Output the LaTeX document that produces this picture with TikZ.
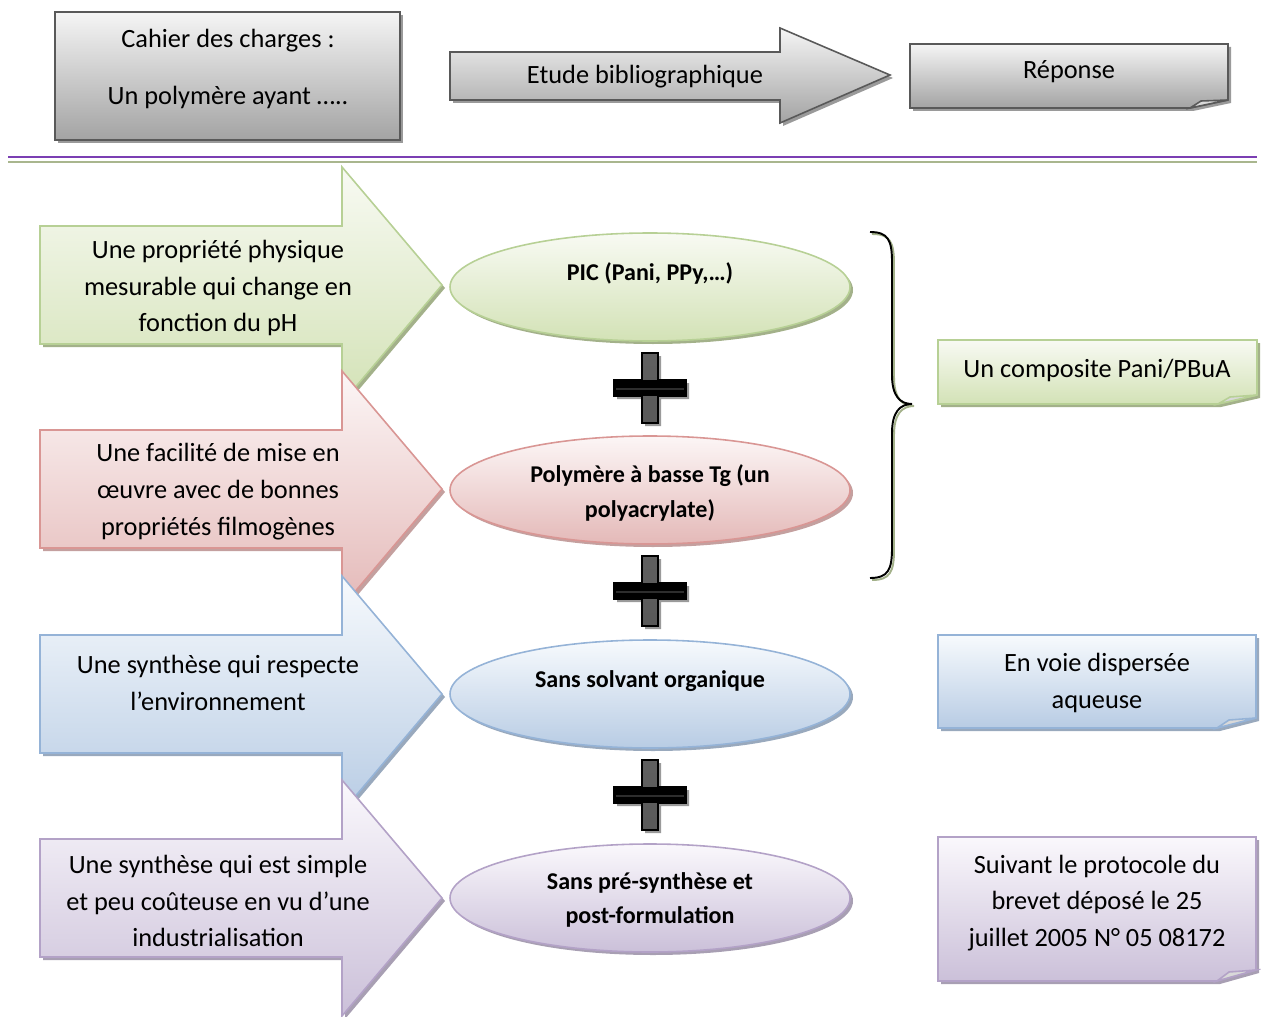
\documentclass[tikz,border=0pt]{standalone}
\usepackage{fontspec}
\setmainfont{Carlito}
\usepackage{xcolor}
\usepackage{tikz}
\definecolor{ink}{HTML}{000000}
\definecolor{greyhi}{HTML}{F5F5F5}
\definecolor{greylo}{HTML}{A3A3A3}
\definecolor{greyln}{HTML}{595959}
\definecolor{greysh}{HTML}{9A9A9A}
\definecolor{greenhi}{HTML}{F8FAF3}
\definecolor{greenlo}{HTML}{D3E2B6}
\definecolor{greenln}{HTML}{B7D095}
\definecolor{greensh}{HTML}{A3B18A}
\definecolor{redhi}{HTML}{FCF6F6}
\definecolor{redlo}{HTML}{E4B9B8}
\definecolor{redln}{HTML}{D99694}
\definecolor{redsh}{HTML}{C4A09F}
\definecolor{bluehi}{HTML}{F7FAFD}
\definecolor{bluelo}{HTML}{B8CCE4}
\definecolor{blueln}{HTML}{95B3D7}
\definecolor{bluesh}{HTML}{99A9BD}
\definecolor{purphi}{HTML}{FAF8FC}
\definecolor{purplo}{HTML}{CBC0D9}
\definecolor{purpln}{HTML}{B3A2C7}
\definecolor{purpsh}{HTML}{A89FB3}
\definecolor{rulepurp}{HTML}{7B3FB3}
\definecolor{ruleolive}{HTML}{A9B68E}
\tikzset{
  greybox/.style={top color=greyhi, bottom color=greylo, draw=greyln, line width=0.9pt},
  greenbox/.style={top color=greenhi, bottom color=greenlo, draw=greenln, line width=0.9pt},
  redbox/.style={top color=redhi, bottom color=redlo, draw=redln, line width=0.9pt},
  bluebox/.style={top color=bluehi, bottom color=bluelo, draw=blueln, line width=0.9pt},
  purpbox/.style={top color=purphi, bottom color=purplo, draw=purpln, line width=0.9pt},
  shadowbox/.style={fill=#1, draw=none},
  foldbox/.style={fill=gray!30, draw=#1, line width=0.9pt},
  plusbox/.style={top color=gray!75!black, middle color=black, bottom color=gray!70!black, draw=black, line width=0.9pt},
  plusbar/.style={fill=black, draw=none},
  bracket/.style={draw=ink, line width=1.1pt},
  lab/.style={text=ink, font=\fontsize{15}{21}\selectfont, align=center, inner sep=0pt},
  blab/.style={text=ink, font=\bfseries\fontsize{13.7}{19.5}\selectfont, align=center, inner sep=0pt}
}
\begin{document}
\begin{tikzpicture}[x=0.02cm, y=-0.02cm]
  \useasboundingbox (0,0) rectangle (1261,1017);

  % Top row: cahier des charges -> etude -> reponse
  \fill[shadowbox=greysh] (58,15) rectangle (403,143);
  \path[greybox] (55,12) rectangle (400,140);
  \node[lab] (cahier) at (228,69) {Cahier des charges :\\[11pt]Un polymère ayant …..};

  \fill[shadowbox=greysh] (453,55) -- (783,55) -- (783,31) -- (893,78) -- (783,126) -- (783,103) -- (453,103) -- cycle;
  \path[greybox] (450,52) -- (780,52) -- (780,28) -- (890,75) -- (780,123) -- (780,100) -- (450,100) -- cycle;
  \node[lab] (etude) at (645,77) {Etude bibliographique};

  \fill[shadowbox=greysh] (913,47) -- (1231,47) -- (1231,103) -- (1193,111) -- (913,111) -- cycle;
  \path[greybox] (910,44) -- (1228,44) -- (1228,100) -- (1190,108) -- (910,108) -- cycle;
  \filldraw[foldbox=greyln] (1190,108) -- (1201,101) -- (1228,100) -- cycle;
  \node[lab] (reponse) at (1069,72) {Réponse};

  % Separator
  \draw[rulepurp, line width=1.7pt] (8,157) -- (1257,157);
  \draw[ruleolive, line width=1.1pt] (8,162) -- (1257,162);

  % Left arrows (tip height given by the shift)
  \begin{scope}[shift={(0,285)}]
    \fill[shadowbox=greensh] (43,-56) -- (345,-56) -- (345,-115) -- (445,3) -- (345,121) -- (345,62) -- (43,62) -- cycle;
    \path[greenbox] (40,-59) -- (342,-59) -- (342,-118) -- (442,0) -- (342,118) -- (342,59) -- (40,59) -- cycle;
  \end{scope}
  \node[lab] (ag) at (218,288) {Une propriété physique\\mesurable qui change en\\fonction du pH};

  \begin{scope}[shift={(0,489)}]
    \fill[shadowbox=redsh] (43,-56) -- (345,-56) -- (345,-115) -- (445,3) -- (345,121) -- (345,62) -- (43,62) -- cycle;
    \path[redbox] (40,-59) -- (342,-59) -- (342,-118) -- (442,0) -- (342,118) -- (342,59) -- (40,59) -- cycle;
  \end{scope}
  \node[lab] (ar) at (218,492) {Une facilité de mise en\\œuvre avec de bonnes\\propriétés filmogènes};

  \begin{scope}[shift={(0,694)}]
    \fill[shadowbox=bluesh] (43,-56) -- (345,-56) -- (345,-115) -- (445,3) -- (345,121) -- (345,62) -- (43,62) -- cycle;
    \path[bluebox] (40,-59) -- (342,-59) -- (342,-118) -- (442,0) -- (342,118) -- (342,59) -- (40,59) -- cycle;
  \end{scope}
  \node[lab] (ab) at (218,683) {Une synthèse qui respecte\\l’environnement};

  \begin{scope}[shift={(0,898)}]
    \fill[shadowbox=purpsh] (43,-56) -- (345,-56) -- (345,-115) -- (445,3) -- (345,121) -- (345,62) -- (43,62) -- cycle;
    \path[purpbox] (40,-59) -- (342,-59) -- (342,-118) -- (442,0) -- (342,118) -- (342,59) -- (40,59) -- cycle;
  \end{scope}
  \node[lab] (ap) at (218,901) {Une synthèse qui est simple\\et peu coûteuse en vu d’une\\industrialisation};

  % Ellipses
  \def\rx{200}
  \def\ry{54}
  \fill[shadowbox=greensh] (653,290) ellipse [x radius=\rx, y radius=\ry];
  \path[greenbox] (650,287) ellipse [x radius=\rx, y radius=\ry];
  \node[blab] (eg) at (650,273) {PIC (Pani, PPy,…)};

  \fill[shadowbox=redsh] (653,493) ellipse [x radius=\rx, y radius=\ry];
  \path[redbox] (650,490) ellipse [x radius=\rx, y radius=\ry];
  \node[blab] (er) at (650,493) {Polymère à basse Tg (un\\polyacrylate)};

  \fill[shadowbox=bluesh] (653,697) ellipse [x radius=\rx, y radius=\ry];
  \path[bluebox] (650,694) ellipse [x radius=\rx, y radius=\ry];
  \node[blab] (eb) at (650,681) {Sans solvant organique};

  \fill[shadowbox=purpsh] (653,901) ellipse [x radius=\rx, y radius=\ry];
  \path[purpbox] (650,898) ellipse [x radius=\rx, y radius=\ry];
  \node[blab] (ep) at (650,900) {Sans pré-synthèse et\\post-formulation};

  % Plus signs
  \begin{scope}[shift={(650,388)}]
    \fill[shadowbox=greysh] (-5,-32) -- (11,-32) -- (11,-5) -- (39,-5) -- (39,11) -- (11,11) -- (11,38) -- (-5,38) -- (-5,11) -- (-33,11) -- (-33,-5) -- (-5,-5) -- cycle;
    \path[plusbox] (-8,-35) -- (8,-35) -- (8,-8) -- (36,-8) -- (36,8) -- (8,8) -- (8,35) -- (-8,35) -- (-8,8) -- (-36,8) -- (-36,-8) -- (-8,-8) -- cycle;
    \fill[plusbar] (-36,-8) rectangle (36,8);
    \fill[gray!35!black] (-34,0) rectangle (34,2);
  \end{scope}
  \begin{scope}[shift={(650,591)}]
    \fill[shadowbox=greysh] (-5,-32) -- (11,-32) -- (11,-5) -- (39,-5) -- (39,11) -- (11,11) -- (11,38) -- (-5,38) -- (-5,11) -- (-33,11) -- (-33,-5) -- (-5,-5) -- cycle;
    \path[plusbox] (-8,-35) -- (8,-35) -- (8,-8) -- (36,-8) -- (36,8) -- (8,8) -- (8,35) -- (-8,35) -- (-8,8) -- (-36,8) -- (-36,-8) -- (-8,-8) -- cycle;
    \fill[plusbar] (-36,-8) rectangle (36,8);
    \fill[gray!35!black] (-34,0) rectangle (34,2);
  \end{scope}
  \begin{scope}[shift={(650,795)}]
    \fill[shadowbox=greysh] (-5,-32) -- (11,-32) -- (11,-5) -- (39,-5) -- (39,11) -- (11,11) -- (11,38) -- (-5,38) -- (-5,11) -- (-33,11) -- (-33,-5) -- (-5,-5) -- cycle;
    \path[plusbox] (-8,-35) -- (8,-35) -- (8,-8) -- (36,-8) -- (36,8) -- (8,8) -- (8,35) -- (-8,35) -- (-8,8) -- (-36,8) -- (-36,-8) -- (-8,-8) -- cycle;
    \fill[plusbar] (-36,-8) rectangle (36,8);
    \fill[gray!35!black] (-34,0) rectangle (34,2);
  \end{scope}

  % Brace
  \draw[greensh, line width=1.1pt] (872,234) .. controls (890,234) and (894,242) .. (894,264) -- (894,377) .. controls (894,398) and (902,406) .. (914,406) .. controls (902,406) and (894,414) .. (894,435) -- (894,550) .. controls (894,572) and (890,580) .. (872,580);
  \draw[bracket] (870,232) .. controls (888,232) and (892,240) .. (892,262) -- (892,375) .. controls (892,396) and (900,404) .. (912,404) .. controls (900,404) and (892,412) .. (892,433) -- (892,548) .. controls (892,570) and (888,578) .. (870,578);

  % Right notes
  \fill[shadowbox=greensh] (941,343) -- (1260,343) -- (1260,398) -- (1221,407) -- (941,407) -- cycle;
  \path[greenbox] (938,340) -- (1257,340) -- (1257,395) -- (1218,404) -- (938,404) -- cycle;
  \filldraw[foldbox=greenln] (1218,404) -- (1230,397) -- (1257,395) -- cycle;
  \node[lab] (ng) at (1097,370) {Un composite Pani/PBuA};

  \fill[shadowbox=bluesh] (941,638) -- (1259,638) -- (1259,721) -- (1220,731) -- (941,731) -- cycle;
  \path[bluebox] (938,635) -- (1256,635) -- (1256,718) -- (1217,728) -- (938,728) -- cycle;
  \filldraw[foldbox=blueln] (1217,728) -- (1229,720) -- (1256,718) -- cycle;
  \node[lab] (nb) at (1097,683) {En voie dispersée\\aqueuse};

  \fill[shadowbox=purpsh] (941,840) -- (1259,840) -- (1259,973) -- (1220,984) -- (941,984) -- cycle;
  \path[purpbox] (938,837) -- (1256,837) -- (1256,970) -- (1217,981) -- (938,981) -- cycle;
  \filldraw[foldbox=purpln] (1217,981) -- (1229,972) -- (1256,970) -- cycle;
  \node[lab] (np) at (1097,903) {Suivant le protocole du\\brevet déposé le 25\\juillet 2005 N° 05 08172};
\end{tikzpicture}
\end{document}
